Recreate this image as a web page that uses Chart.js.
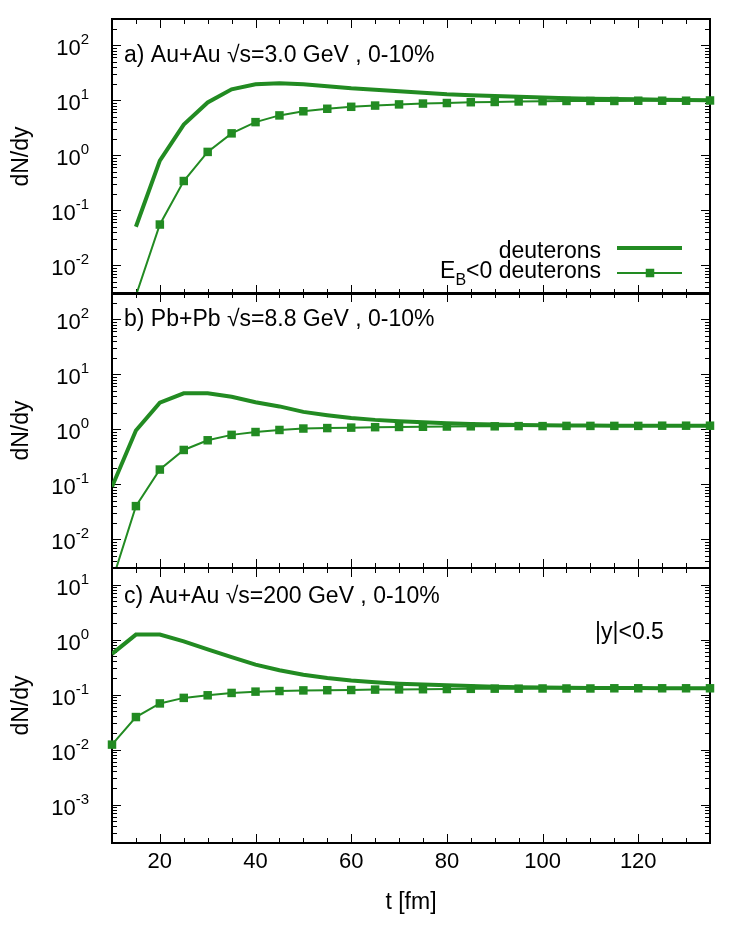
<!DOCTYPE html>
<html lang="en">
<head>
<meta charset="UTF-8">
<title>dN/dy vs t</title>
<script src="https://cdn.jsdelivr.net/npm/chart.js"></script>
<style>
    body { margin: 0; background: #fff; }
    #wrap { position: relative; width: 747px; height: 947px; }
    #wrap canvas { position: absolute; left: 0; top: 0; }
</style>
</head>
<body>
<div id="wrap">
    <canvas id="panelA" width="747" height="947"></canvas>
    <canvas id="panelB" width="747" height="947"></canvas>
    <canvas id="panelC" width="747" height="947"></canvas>
</div>
<script>
// time steps (fm), also used for the x tick marks
const times = [10, 15, 20, 25, 30, 35, 40, 45, 50, 55, 60, 65, 70, 75, 80, 85, 90, 95, 100, 105, 110, 115, 120, 125, 130, 135];
const tLabels = [20, 40, 60, 80, 100, 120];

// a) Au+Au 3.0 GeV
const deutA = [null, 0.050, 0.80, 3.6, 9.1, 15.8, 19.5, 20.3, 19.5, 18.0, 16.5, 15.5, 14.6, 13.7, 12.8, 12.3, 11.9, 11.6, 11.2, 10.9, 10.7, 10.5, 10.4, 10.2, 10.1, 10.0];
const boundA = [null, 0.0028, 0.055, 0.34, 1.15, 2.5, 4.0, 5.3, 6.3, 7.0, 7.6, 8.0, 8.4, 8.7, 8.9, 9.2, 9.3, 9.5, 9.6, 9.7, 9.7, 9.7, 9.8, 9.8, 9.8, 9.9];

// b) Pb+Pb 8.8 GeV
const deutB = [0.09, 0.95, 3.05, 4.5, 4.5, 3.9, 3.1, 2.6, 2.07, 1.8, 1.6, 1.48, 1.40, 1.34, 1.29, 1.25, 1.22, 1.20, 1.18, 1.17, 1.17, 1.16, 1.16, 1.16, 1.16, 1.16];
const boundB = [0.0017, 0.04, 0.185, 0.42, 0.63, 0.79, 0.89, 0.97, 1.03, 1.05, 1.07, 1.09, 1.10, 1.11, 1.12, 1.13, 1.13, 1.14, 1.14, 1.15, 1.15, 1.15, 1.15, 1.16, 1.16, 1.16];

// c) Au+Au 200 GeV
const deutC = [0.55, 1.23, 1.23, 0.93, 0.66, 0.48, 0.35, 0.277, 0.23, 0.20, 0.18, 0.167, 0.158, 0.152, 0.147, 0.143, 0.139, 0.136, 0.134, 0.133, 0.132, 0.131, 0.131, 0.130, 0.130, 0.130];
const boundC = [0.0123, 0.039, 0.069, 0.087, 0.097, 0.107, 0.113, 0.116, 0.119, 0.120, 0.121, 0.123, 0.124, 0.125, 0.126, 0.127, 0.128, 0.128, 0.129, 0.129, 0.129, 0.130, 0.130, 0.130, 0.130, 0.130];

const GREEN = '#228b22';
const FONT = '"Liberation Sans", Arial, sans-serif';

function line(ctx, x1, y1, x2, y2) {
    ctx.beginPath();
    ctx.moveTo(x1, y1);
    ctx.lineTo(x2, y2);
    ctx.stroke();
}

// gnuplot-like frame, inward ticks, 10^n labels, panel texts and legend
const decoPlugin = {
    id: 'deco',
    beforeDatasetsDraw(chart, args, opts) {
        const ctx = chart.ctx, a = chart.chartArea;
        const x = chart.scales.x, y = chart.scales.y;
        ctx.save();
        ctx.strokeStyle = '#000';
        ctx.lineWidth = 1;
        times.forEach(t => {
            const px = Math.round(x.getPixelForValue(t)) + 0.5;
            const len = t % 20 === 0 ? 9 : 5;
            line(ctx, px, a.top, px, a.top + len);
            line(ctx, px, a.bottom, px, a.bottom - len);
        });
        const lo = Math.floor(Math.log10(y.min)), hi = Math.ceil(Math.log10(y.max));
        for (let e = lo; e <= hi; e++) {
            for (let m = 1; m < 10; m++) {
                const v = m * Math.pow(10, e);
                if (v < y.min || v > y.max) continue;
                const py = Math.round(y.getPixelForValue(v)) + 0.5;
                const len = m === 1 ? 9 : 5;
                line(ctx, a.left, py, a.left + len, py);
                line(ctx, a.right, py, a.right - len, py);
                if (m === 1) {
                    const sup = String(e);
                    ctx.fillStyle = '#000';
                    ctx.textBaseline = 'alphabetic';
                    ctx.textAlign = 'left';
                    ctx.font = '15px ' + FONT;
                    const sw = ctx.measureText(sup).width;
                    const right = a.left - 23;
                    ctx.fillText(sup, right - sw, py - 2);
                    ctx.font = '22px ' + FONT;
                    ctx.textAlign = 'right';
                    ctx.fillText('10', right - sw, py + 9);
                }
            }
        }
        ctx.lineWidth = 2;
        ctx.strokeRect(a.left, a.top, a.right - a.left, a.bottom - a.top);
        ctx.restore();
    },
    afterDraw(chart, args, opts) {
        const ctx = chart.ctx;
        ctx.save();
        ctx.fillStyle = '#000';
        ctx.textBaseline = 'alphabetic';
        ctx.font = '23px ' + FONT;
        ctx.textAlign = 'left';
        ctx.fillText(opts.title, 124, opts.titleY);
        if (opts.note) ctx.fillText(opts.note, 595, 639);
        if (opts.legend) {
            const tx = 601;
            ctx.textAlign = 'right';
            ctx.fillText('deuterons', tx, 258);
            ctx.strokeStyle = GREEN;
            ctx.lineWidth = 4;
            line(ctx, 617, 248, 682, 248);

            const rest = '<0 deuterons';
            const w1 = ctx.measureText(rest).width;
            ctx.fillText(rest, tx, 278);
            ctx.font = '16px ' + FONT;
            const wB = ctx.measureText('B').width;
            ctx.fillText('B', tx - w1, 285);
            ctx.font = '23px ' + FONT;
            ctx.fillText('E', tx - w1 - wB, 278);
            ctx.lineWidth = 2;
            line(ctx, 617, 273, 682, 273);
            ctx.fillStyle = GREEN;
            ctx.fillRect(650 - 4.25, 273 - 4.25, 8.5, 8.5);
        }
        ctx.restore();
    }
};

function toPoints(vals) {
    return times.map((t, i) => ({ x: t, y: vals[i] }));
}

function makePanel(id, deut, bound, yMin, yMax, top, texts, showX) {
    const bottomPad = showX ? 27 : 947 - (top + 275);
    return new Chart(document.getElementById(id), {
        type: 'line',
        data: {
            datasets: [
                {
                    label: 'E_B<0 deuterons',
                    data: toPoints(bound),
                    borderColor: GREEN,
                    backgroundColor: GREEN,
                    borderWidth: 2,
                    pointStyle: 'rect',
                    pointRadius: bound.map(v => (v === null || v < yMin) ? 0 : 6),
                    pointBorderWidth: 0,
                    pointBackgroundColor: GREEN,
                    clip: { left: 10, right: 10, top: 0, bottom: 0 },
                    fill: false
                },
                {
                    label: 'deuterons',
                    data: toPoints(deut),
                    borderColor: GREEN,
                    borderWidth: 4,
                    pointRadius: 0,
                    fill: false
                }
            ]
        },
        options: {
            responsive: false,
            animation: false,
            events: [],
            devicePixelRatio: 1,
            layout: { padding: { left: 4, right: 37, top: top, bottom: bottomPad } },
            plugins: {
                legend: { display: false },
                tooltip: { enabled: false },
                deco: texts
            },
            scales: {
                x: {
                    type: 'linear',
                    min: 10,
                    max: 135,
                    display: showX,
                    grid: { display: false, drawTicks: false },
                    border: { display: false },
                    ticks: {
                        stepSize: 20,
                        includeBounds: false,
                        autoSkip: false,
                        maxRotation: 0,
                        padding: 6,
                        color: '#000',
                        font: { family: FONT, size: 22 },
                        callback: v => tLabels.includes(v) ? String(v) : ''
                    },
                    title: {
                        display: true,
                        text: 't [fm]',
                        color: '#000',
                        font: { family: FONT, size: 23 }
                    },
                    afterFit: s => { s.height = showX ? 77 : 0; }
                },
                y: {
                    type: 'logarithmic',
                    min: yMin,
                    max: yMax,
                    grid: { display: false },
                    border: { display: false },
                    ticks: { display: false },
                    title: {
                        display: true,
                        text: 'dN/dy',
                        color: '#000',
                        font: { family: FONT, size: 23 }
                    },
                    afterFit: s => { s.width = 108; }
                }
            }
        },
        plugins: [decoPlugin]
    });
}

makePanel('panelA', deutA, boundA, 0.003, 300, 19,
    { title: 'a) Au+Au \u221As=3.0 GeV , 0-10%', titleY: 62, legend: true }, false);
makePanel('panelB', deutB, boundB, 0.003, 300, 293,
    { title: 'b) Pb+Pb \u221As=8.8 GeV , 0-10%', titleY: 326 }, false);
makePanel('panelC', deutC, boundC, 0.0002, 20, 568,
    { title: 'c) Au+Au \u221As=200 GeV , 0-10%', titleY: 603, note: '|y|<0.5' }, true);
</script>
</body>
</html>
